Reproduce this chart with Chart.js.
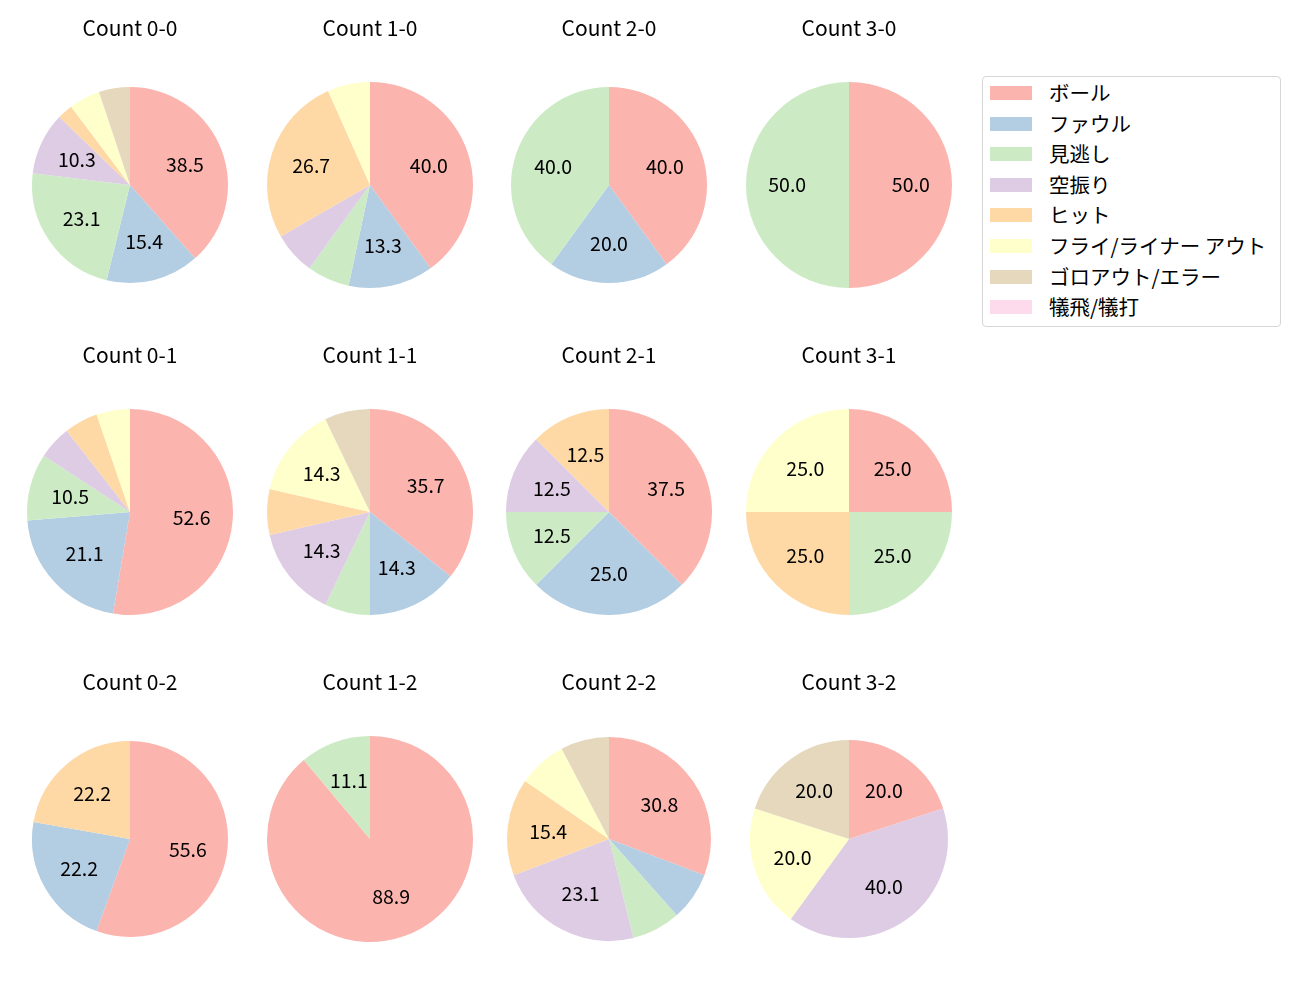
<!DOCTYPE html>
<html>
<head>
<meta charset="utf-8">
<script src="https://cdn.jsdelivr.net/npm/chart.js@4/dist/chart.umd.min.js"></script>
<style>
  body { margin: 0; background: #fff; }
  #wrap { position: relative; width: 1300px; height: 1000px; overflow: hidden; font-family: "Noto Sans CJK JP", "Noto Sans", sans-serif; }
  .pie { position: absolute; }
  #legend { position: absolute; left: 982px; top: 76px; width: 297px; height: 249px; border: 1px solid #d6d6d6; border-radius: 4px; box-sizing: content-box; }
  #legend .row { position: absolute; left: 0; height: 20px; font-size: 20.5px; line-height: 20px; color: #000; white-space: nowrap; }
  #legend .sw { position: absolute; left: 7px; top: 3px; width: 42px; height: 14px; }
  #legend .tx { position: absolute; left: 66px; top: -1px; }
</style>
</head>
<body>
<div id="wrap">
  <div id="legend"></div>
</div>
<script>
// categories (pitch results)
const categories = ['ボール', 'ファウル', '見逃し', '空振り', 'ヒット', 'フライ/ライナー アウト', 'ゴロアウト/エラー', '犠飛/犠打'];
const colors = ['#fbb4ae', '#b3cde3', '#ccebc5', '#decbe4', '#fed9a6', '#ffffcc', '#e5d8bd', '#fddaec'];

// pitch counts per ball-strike situation (same order as categories)
const count00 = [15, 6, 9, 4, 1, 2, 2, 0];
const count10 = [6, 2, 1, 1, 4, 1, 0, 0];
const count20 = [2, 1, 2, 0, 0, 0, 0, 0];
const count30 = [1, 0, 1, 0, 0, 0, 0, 0];
const count01 = [10, 4, 2, 1, 1, 1, 0, 0];
const count11 = [5, 2, 1, 2, 1, 2, 1, 0];
const count21 = [3, 2, 1, 1, 1, 0, 0, 0];
const count31 = [1, 0, 1, 0, 1, 1, 0, 0];
const count02 = [5, 2, 0, 0, 2, 0, 0, 0];
const count12 = [8, 0, 1, 0, 0, 0, 0, 0];
const count22 = [4, 1, 1, 3, 2, 1, 1, 0];
const count32 = [1, 0, 0, 2, 0, 1, 1, 0];

const titles = ['Count 0-0', 'Count 1-0', 'Count 2-0', 'Count 3-0',
                'Count 0-1', 'Count 1-1', 'Count 2-1', 'Count 3-1',
                'Count 0-2', 'Count 1-2', 'Count 2-2', 'Count 3-2'];
const series = [count00, count10, count20, count30,
                count01, count11, count21, count31,
                count02, count12, count22, count32];

// layout
const colX = [130, 369.5, 609, 849];
const rowY = [185, 512, 838.5];
const radii = [98, 103, 98, 103,
               103, 103, 103, 103,
               98, 103, 102, 99];
const W = 240, H = 340;

// percentage labels + subplot title
const pieText = {
  id: 'pieText',
  afterDatasetsDraw(chart, args, opts) {
    const ctx = chart.ctx;
    const data = chart.data.datasets[0].data;
    const total = data.reduce((a, b) => a + b, 0);
    const arcs = chart.getDatasetMeta(0).data;
    const cx = (chart.chartArea.left + chart.chartArea.right) / 2;
    const cy = (chart.chartArea.top + chart.chartArea.bottom) / 2;
    ctx.save();
    ctx.fillStyle = '#000';
    ctx.textAlign = 'center';
    ctx.textBaseline = 'middle';
    ctx.font = '19.5px "Noto Sans CJK JP"';
    arcs.forEach((arc, i) => {
      const pct = data[i] / total * 100;
      if (pct < 10) return;
      const mid = (arc.startAngle + arc.endAngle) / 2;
      const r = arc.outerRadius * 0.6;
      ctx.fillText(pct.toFixed(1), arc.x + Math.cos(mid) * r, arc.y + Math.sin(mid) * r);
    });
    ctx.font = '21px "Noto Sans CJK JP"';
    ctx.fillText(opts.title, cx, cy - 157);
    ctx.restore();
  }
};

const wrap = document.getElementById('wrap');
series.forEach((vals, k) => {
  const cx = colX[k % 4], cy = rowY[Math.floor(k / 4)];
  const cv = document.createElement('canvas');
  cv.className = 'pie';
  cv.width = W; cv.height = H;
  cv.style.left = (cx - W / 2) + 'px';
  cv.style.top = (cy - H / 2) + 'px';
  wrap.appendChild(cv);
  new Chart(cv, {
    type: 'pie',
    data: {
      labels: categories,
      datasets: [{
        data: vals,
        backgroundColor: colors,
        borderWidth: 0,
        radius: radii[k]
      }]
    },
    plugins: [pieText],
    options: {
      responsive: false,
      animation: false,
      layout: { padding: 0 },
      plugins: {
        legend: { display: false },
        tooltip: { enabled: false },
        pieText: { title: titles[k] }
      }
    }
  });
});

// legend
const leg = document.getElementById('legend');
categories.forEach((c, i) => {
  const row = document.createElement('div');
  row.className = 'row';
  row.style.top = (6 + i * 30.6) + 'px';
  row.innerHTML = '<span class="sw" style="background:' + colors[i] + '"></span><span class="tx">' + c + '</span>';
  leg.appendChild(row);
});
</script>
</body>
</html>
